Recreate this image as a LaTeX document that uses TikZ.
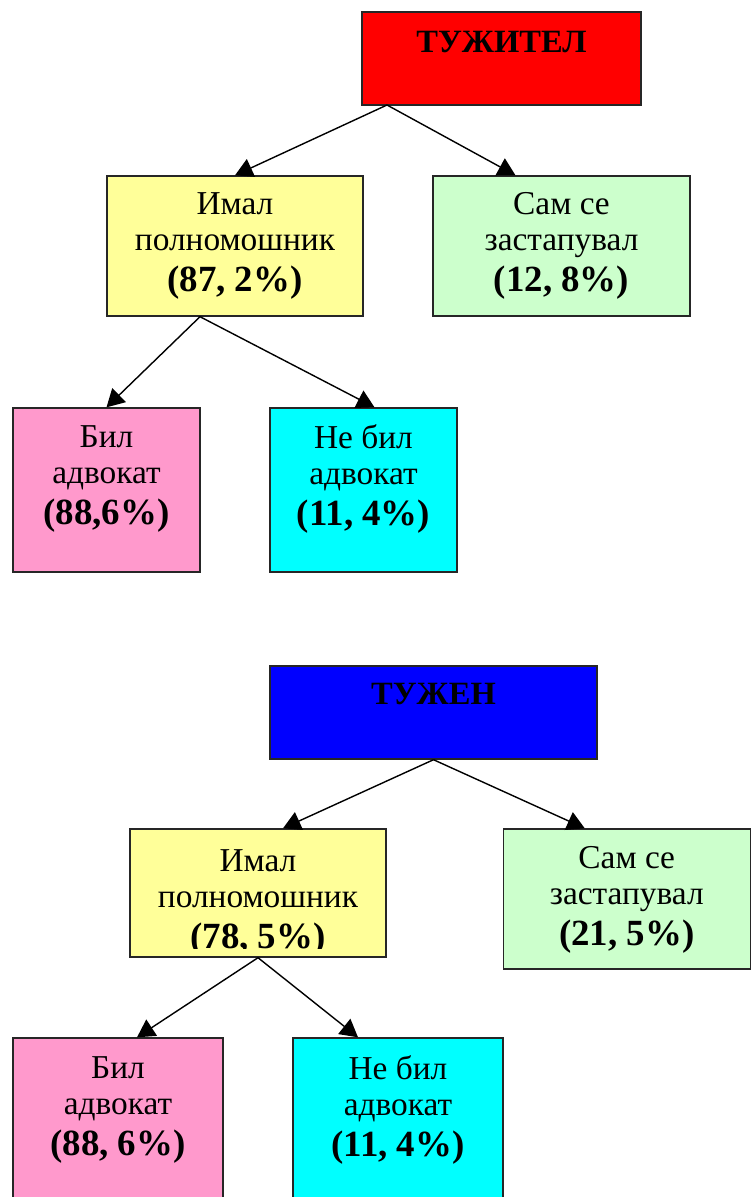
\documentclass[tikz,border=0pt]{standalone}
\usepackage{fontspec}
\setmainfont{Liberation Serif}
\usetikzlibrary{arrows.meta}
\definecolor{plaintiffRed}{HTML}{FF0000}
\definecolor{defendantBlue}{HTML}{0000FF}
\definecolor{proxyYellow}{HTML}{FFFF99}
\definecolor{selfGreen}{HTML}{CCFFCC}
\definecolor{lawyerPink}{HTML}{FF99CC}
\definecolor{nolawyerCyan}{HTML}{00FFFF}

\begin{document}
\begin{tikzpicture}[x=0.02cm, y=-0.02cm,
    box/.style={draw=black!85, line width=0.8pt, inner sep=0pt},
    txt/.style={align=center, inner sep=0pt, font=\fontsize{19}{20.5}\selectfont},
    head/.style={inner sep=0pt, font=\fontsize{18.5}{21}\selectfont\bfseries},
    arr/.style={-{Triangle[length=10pt,width=11pt]}, line width=0.8pt}]
    \clip (0,0) rectangle (751,1197);
    \useasboundingbox (0,0) rectangle (751,1197);
    % upper tree
    \node[box, fill=plaintiffRed, minimum width=5.58cm, minimum height=1.86cm] (tuzhitel) at (501.5,58.5) {};
    \node[head] (tuzhitelT) at (501.5,42) {ТУЖИТЕЛ};
    \node[box, fill=proxyYellow, minimum width=5.12cm, minimum height=2.8cm] (imal1) at (235,246) {};
    \node[txt] (imal1T) at (235,246) {Имал\\полномошник\\[3pt]{\fontsize{21}{21}\selectfont\bfseries (87, 2\%)}};
    \node[box, fill=selfGreen, minimum width=5.14cm, minimum height=2.8cm] (sam1) at (561.5,246) {};
    \node[txt] (sam1T) at (561.5,246) {Сам се\\застапувал\\[3pt]{\fontsize{21}{21}\selectfont\bfseries (12, 8\%)}};
    \node[box, fill=lawyerPink, minimum width=3.74cm, minimum height=3.28cm] (bil1) at (106.5,490) {};
    \node[txt] (bil1T) at (106.5,479) {Бил\\адвокат\\[3pt]{\fontsize{21}{21}\selectfont\bfseries (88,6\%)}};
    \node[box, fill=nolawyerCyan, minimum width=3.74cm, minimum height=3.28cm] (nebil1) at (363.5,490) {};
    \node[txt] (nebil1T) at (363.5,479) {Не бил\\адвокат\\[3pt]{\fontsize{21}{21}\selectfont\bfseries (11, 4\%)}};
    \coordinate (tuzhitelOut) at (387,105);
    \draw[arr] (tuzhitelOut) -- (imal1.north);
    \draw[arr] (tuzhitelOut) -- ([xshift=-0.92cm]sam1.north);
    \draw[arr] ([xshift=-0.7cm]imal1.south) -- (bil1.north);
    \draw[arr] ([xshift=-0.7cm]imal1.south) -- ([xshift=0.22cm]nebil1.north);
    % lower tree
    \node[box, fill=defendantBlue, minimum width=6.54cm, minimum height=1.86cm] (tuzhen) at (433.5,712.5) {};
    \node[head] (tuzhenT) at (433.5,694) {ТУЖЕН};
    \node[box, fill=proxyYellow, minimum width=5.12cm, minimum height=2.56cm] (imal2) at (258,893) {};
    \begin{scope}
        \clip (imal2.north west) rectangle ([yshift=0.19cm]imal2.south east);
        \node[txt] (imal2T) at (258,903) {Имал\\полномошник\\[3pt]{\fontsize{21}{21}\selectfont\bfseries (78, 5\%)}};
    \end{scope}
    \node[box, fill=selfGreen, minimum width=4.94cm, minimum height=2.8cm] (sam2) at (626.75,899) {};
    \node[txt] (sam2T) at (626.75,900) {Сам се\\застапувал\\[3pt]{\fontsize{21}{21}\selectfont\bfseries (21, 5\%)}};
    \node[box, fill=lawyerPink, minimum width=4.2cm, minimum height=3.34cm] (bil2) at (118,1121.5) {};
    \node[txt] (bil2T) at (118,1110) {Бил\\адвокат\\[3pt]{\fontsize{21}{21}\selectfont\bfseries (88, 6\%)}};
    \node[box, fill=nolawyerCyan, minimum width=4.2cm, minimum height=3.34cm] (nebil2) at (398,1121.5) {};
    \node[txt] (nebil2T) at (398,1110) {Не бил\\адвокат\\[3pt]{\fontsize{21}{21}\selectfont\bfseries (11, 4\%)}};
    \draw[arr] (tuzhen.south) -- ([xshift=0.5cm]imal2.north);
    \draw[arr] (tuzhen.south) -- ([xshift=-0.84cm]sam2.north);
    \draw[arr] (imal2.south) -- ([xshift=0.38cm]bil2.north);
    \draw[arr] (imal2.south) -- ([xshift=-0.8cm]nebil2.north);
\end{tikzpicture}
\end{document}
